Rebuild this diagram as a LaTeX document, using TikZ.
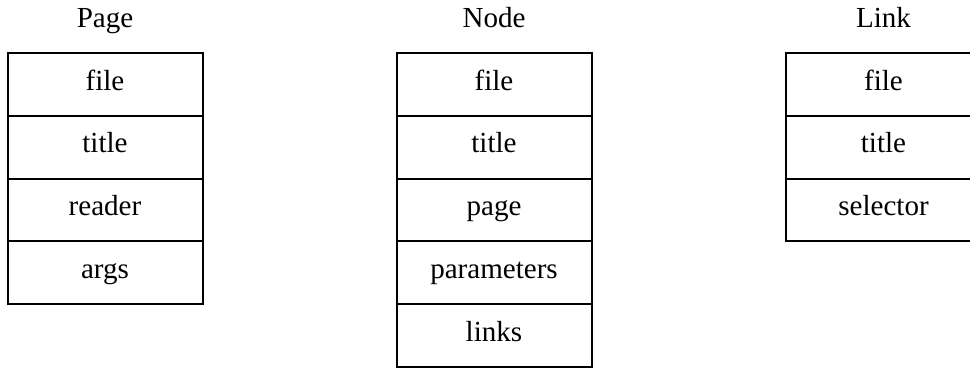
\documentclass[tikz,border=0pt]{standalone}
\usepackage{fontspec}
\setmainfont{Liberation Serif}
\begin{document}
\begin{tikzpicture}[x=0.75pt,y=-0.75pt,
  cell/.style={draw=black, line width=1.5pt, rectangle, inner sep=0pt,
    minimum width=146.25pt, minimum height=47.1pt,
    text height=14pt, text depth=5.4pt,
    font=\fontsize{21.8}{26}\selectfont},
  head/.style={anchor=base, inner sep=0pt, font=\fontsize{21.8}{26}\selectfont}]
\useasboundingbox (0,0) rectangle (970,368);
\clip (0,0) rectangle (970,368);
% titles
\node[head] (tpage) at (105,27) {Page};
\node[head] (tnode) at (494,27) {Node};
\node[head] (tlink) at (883.5,27) {Link};
% Page table
\node[cell] (pfile)   at (105,84.4)  {file};
\node[cell] (ptitle)  at (105,147.2) {title};
\node[cell] (preader) at (105,210.0) {reader};
\node[cell] (pargs)   at (105,272.8) {args};
% Node table
\node[cell] (nfile)   at (494,84.4)  {file};
\node[cell] (ntitle)  at (494,147.2) {title};
\node[cell] (npage)   at (494,210.0) {page};
\node[cell] (nparam)  at (494,272.8) {parameters};
\node[cell] (nlinks)  at (494,335.6) {links};
% Link table
\node[cell] (lfile)   at (883.5,84.4)  {file};
\node[cell] (ltitle)  at (883.5,147.2) {title};
\node[cell] (lsel)    at (883.5,210.0) {selector};
\end{tikzpicture}
\end{document}
